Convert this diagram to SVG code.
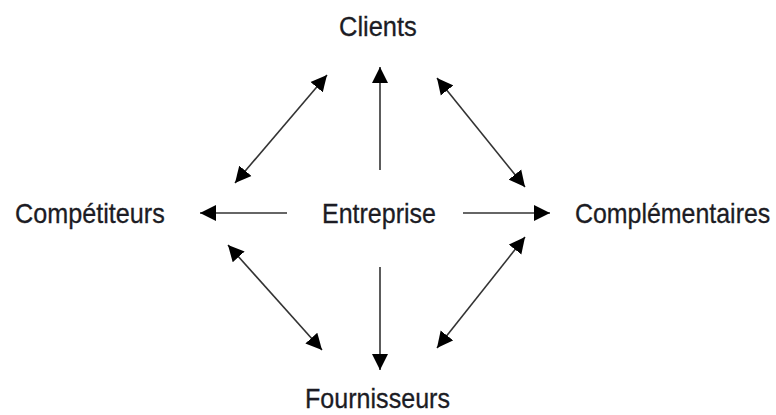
<svg xmlns="http://www.w3.org/2000/svg" width="776" height="415" viewBox="0 0 776 415">
<style>
.t{font-family:"Liberation Sans",Arial,sans-serif;font-size:28px;fill:#1c1c24;stroke:#1c1c24;stroke-width:0.3}
.c{stroke:#333;stroke-width:1.6;fill:none}
</style>
<defs>
<marker id="ah" markerUnits="userSpaceOnUse" markerWidth="17" markerHeight="17" viewBox="0 0 17 17" refX="16" refY="8.5" orient="auto-start-reverse">
<path d="M0,0.5 L16,8.5 L0,16.5 Z" fill="#000"/>
</marker>
</defs>
<rect width="776" height="415" fill="#fff"/>
<g id="connectors">
<line class="c" x1="380" y1="170" x2="380" y2="67" marker-end="url(#ah)"/>
<line class="c" x1="380" y1="267" x2="380" y2="370" marker-end="url(#ah)"/>
<line class="c" x1="287" y1="213" x2="200" y2="213" marker-end="url(#ah)"/>
<line class="c" x1="463" y1="213" x2="550" y2="213" marker-end="url(#ah)"/>
<line class="c" x1="235" y1="183" x2="327" y2="75" marker-start="url(#ah)" marker-end="url(#ah)"/>
<line class="c" x1="437" y1="78" x2="525" y2="187" marker-start="url(#ah)" marker-end="url(#ah)"/>
<line class="c" x1="228" y1="245" x2="322" y2="350" marker-start="url(#ah)" marker-end="url(#ah)"/>
<line class="c" x1="525" y1="237" x2="437" y2="348" marker-start="url(#ah)" marker-end="url(#ah)"/>
</g>
<g id="clients" transform="translate(339,36) scale(0.91,1)"><text class="t" x="0" y="0">Clients</text></g>
<g id="competiteurs" transform="translate(15,223) scale(0.9,1)"><text class="t" x="0" y="0">Compétiteurs</text></g>
<g id="entreprise" transform="translate(322,223) scale(0.893,1)"><text class="t" x="0" y="0">Entreprise</text></g>
<g id="complementaires" transform="translate(575,223) scale(0.89,1)"><text class="t" x="0" y="0">Complémentaires</text></g>
<g id="fournisseurs" transform="translate(305,408) scale(0.896,1)"><text class="t" x="0" y="0">Fournisseurs</text></g>
</svg>
